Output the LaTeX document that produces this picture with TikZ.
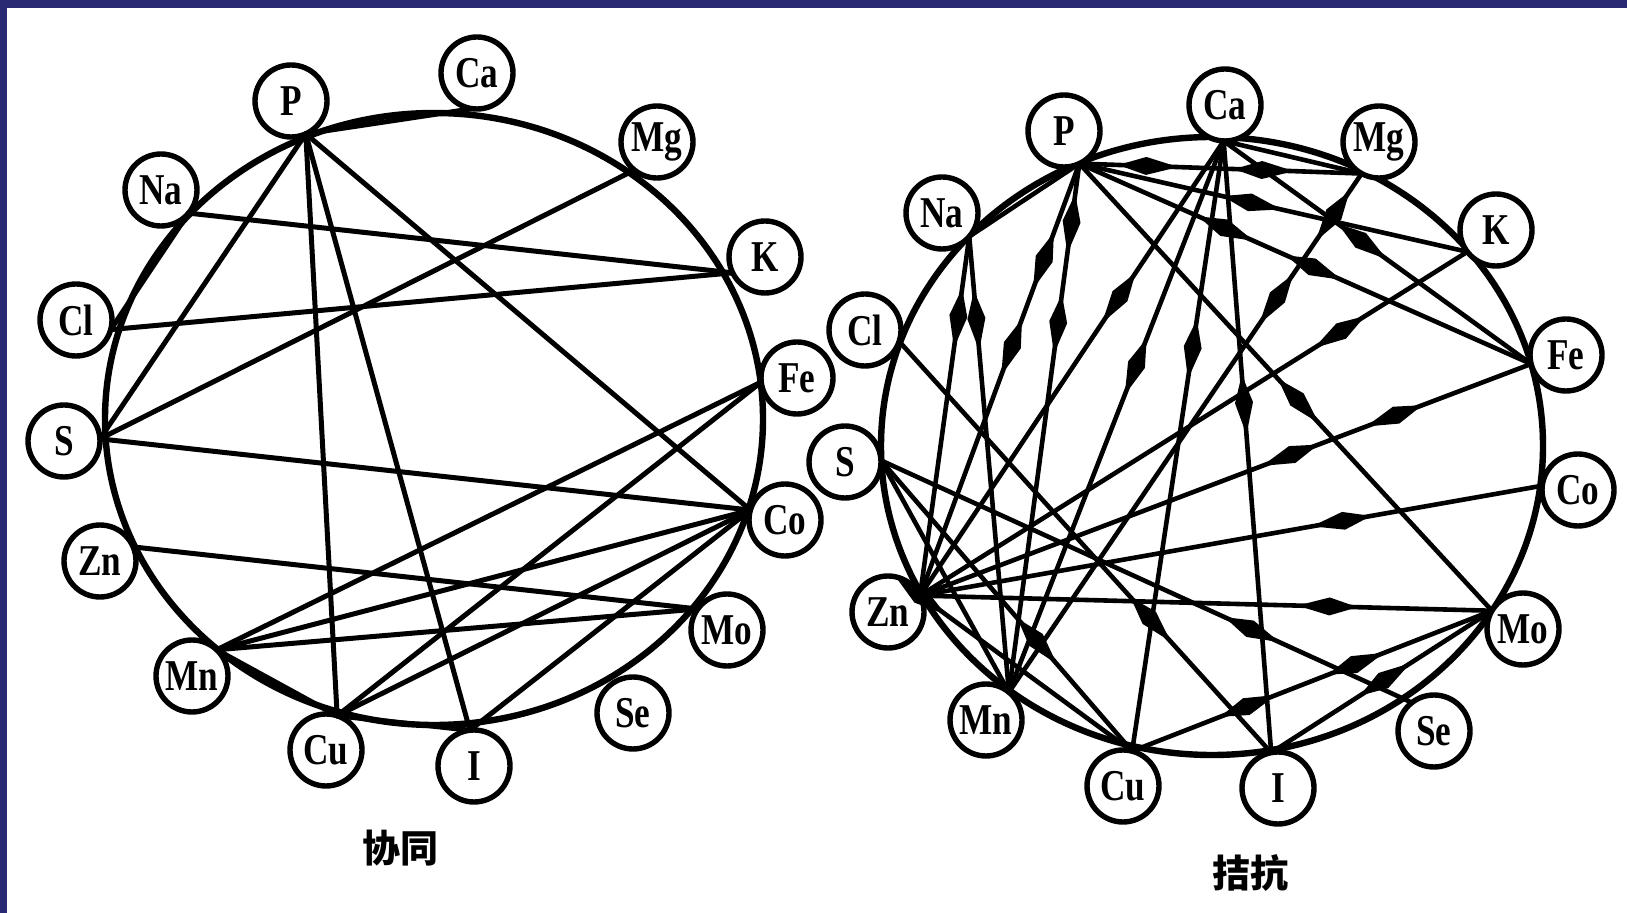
\documentclass[tikz,border=0pt]{standalone}
\usepackage{fontspec}
\newfontfamily\elfont[FakeStretch=0.8]{Liberation Serif}
\newfontfamily\cjkfont{Noto Sans CJK SC}
\usetikzlibrary{calc,arrows.meta,decorations.markings}
\definecolor{frameblue}{RGB}{40,40,115}
\newcommand{\spin}{\arrow{Kite[length=30pt,width=9pt,inset=14pt]}}
\begin{document}
\begin{tikzpicture}[x=0.5pt,y=-0.5pt,line cap=round,line join=round,
  ring/.style={line width=3.2pt},
  el/.style={circle,draw,fill=white,line width=2.7pt,minimum size=36pt,inner sep=0pt,
    font=\elfont\bfseries\fontsize{22}{22}\selectfont},
  bond/.style={line width=2.5pt},
  anta/.style={line width=2.3pt},
  mk/.style={decoration={markings,mark=at position #1 with {\spin}},postaction={decorate}},
  mkk/.style 2 args={decoration={markings,mark=at position #1 with {\spin},
    mark=at position #2 with {\spin}},postaction={decorate}},
  caption/.style={font=\cjkfont\bfseries\fontsize{19}{19}\selectfont}]
\useasboundingbox (0,0) rectangle (1627,913);
\fill[white] (0,0) rectangle (1627,913);
\fill[frameblue] (0,0) rectangle (1627,8);
\fill[frameblue] (0,0) rectangle (7,913);
% synergy ring
\coordinate (xO) at (434,419);
\draw[ring] (xO) ellipse [x radius=164.5pt, y radius=153pt];
\node[el] (xP) at (291,101) {P};
\node[el] (xCa) at (477,73) {Ca};
\node[el] (xMg) at (657,142) {Mg};
\node[el] (xNa) at (161,190) {Na};
\node[el] (xK) at (765,257) {K};
\node[el] (xCl) at (76,320) {Cl};
\node[el] (xFe) at (797,378) {Fe};
\node[el] (xS) at (64,441) {S};
\node[el] (xCo) at (785,520) {Co};
\node[el] (xZn) at (100,561) {Zn};
\node[el] (xMo) at (727,630) {Mo};
\node[el] (xMn) at (192,676) {Mn};
\node[el] (xSe) at (633,713) {Se};
\node[el] (xCu) at (326,750) {Cu};
\node[el] (xI) at (474,766) {I};
\foreach \n in {P,Ca,Mg,Na,K,Cl,Fe,S,Co,Zn,Mo,Mn,Se,Cu,I}
  \coordinate (x\n-c) at ($(x\n)!18pt!(xO)$);
\draw[bond] (xP-c) -- (xCa-c);
\draw[bond] (xP-c) -- (xS-c);
\draw[bond] (xP-c) -- (xCu-c);
\draw[bond] (xP-c) -- (xI-c);
\draw[bond] (xP-c) -- (xCo-c);
\draw[bond] (xNa-c) -- (xK-c);
\draw[bond] (xNa-c) -- (xCl-c);
\draw[bond] (xCl-c) -- (xK-c);
\draw[bond] (xS-c) -- (xMg-c);
\draw[bond] (xS-c) -- (xCo-c);
\draw[bond] (xZn-c) -- (xMo-c);
\draw[bond] (xMn-c) -- (xFe-c);
\draw[bond] (xMn-c) -- (xCo-c);
\draw[bond] (xMn-c) -- (xMo-c);
\draw[bond] (xMn-c) -- (xCu-c);
\draw[bond] (xCu-c) -- (xFe-c);
\draw[bond] (xCu-c) -- (xCo-c);
\draw[bond] (xCu-c) -- (xI-c);
\draw[bond] (xI-c) -- (xCo-c);
\node[caption] (xlab) at (400,848) {协同};
% antagonism ring
\coordinate (jO) at (1212,446);
\draw[ring] (jO) ellipse [x radius=165.5pt, y radius=154.5pt];
\node[el] (jP) at (1064,131) {P};
\node[el] (jCa) at (1225,105) {Ca};
\node[el] (jMg) at (1379,142) {Mg};
\node[el] (jNa) at (942,213) {Na};
\node[el] (jK) at (1496,230) {K};
\node[el] (jCl) at (865,330) {Cl};
\node[el] (jFe) at (1566,355) {Fe};
\node[el] (jS) at (845,462) {S};
\node[el] (jCo) at (1578,490) {Co};
\node[el] (jZn) at (888,612) {Zn};
\node[el] (jMo) at (1523,629) {Mo};
\node[el] (jMn) at (986,720) {Mn};
\node[el] (jSe) at (1434,731) {Se};
\node[el] (jCu) at (1123,786) {Cu};
\node[el] (jI) at (1278,788) {I};
\foreach \n in {P,Ca,Mg,Na,K,Cl,Fe,S,Co,Zn,Mo,Mn,Se,Cu,I}
  \coordinate (j\n-c) at ($(j\n)!18pt!(jO)$);
\draw[anta] (jP-c) -- (jNa-c);
\draw[anta,mkk={0.35}{0.76}] (jP-c) -- (jMg-c);
\draw[anta,mk=0.52] (jP-c) -- (jK-c);
\draw[anta,mkk={0.385}{0.58}] (jP-c) -- (jFe-c);
\draw[anta,mk=0.58] (jP-c) -- (jMo-c);
\draw[anta,mkk={0.29}{0.49}] (jP-c) -- (jZn-c);
\draw[anta,mkk={0.17}{0.36}] (jP-c) -- (jMn-c);
\draw[anta] (jCa-c) -- (jMg-c);
\draw[anta,mk=0.53] (jCa-c) -- (jFe-c);
\draw[anta,mk=0.40] (jCa-c) -- (jZn-c);
\draw[anta,mk=0.46] (jCa-c) -- (jMn-c);
\draw[anta,mk=0.39] (jCa-c) -- (jCu-c);
\draw[anta,mk=0.48] (jCa-c) -- (jI-c);
\draw[anta,mkk={0.13}{0.29}] (jMg-c) -- (jMn-c);
\draw[anta,mk=0.28] (jK-c) -- (jZn-c);
\draw[anta,mkk={0.27}{0.44}] (jFe-c) -- (jZn-c);
\draw[anta,mk=0.37] (jCo-c) -- (jZn-c);
\draw[anta,mk=0.34] (jMo-c) -- (jZn-c);
\draw[anta,mk=0.31] (jNa-c) -- (jZn-c);
\draw[anta,mk=0.25] (jNa-c) -- (jMn-c);
\draw[anta,mk=0.73] (jCl-c) -- (jI-c);
\draw[anta,mk=0.75] (jS-c) -- (jSe-c);
\draw[anta,mk=0.70] (jS-c) -- (jCu-c);
\draw[anta] (jS-c) -- (jMn-c);
\draw[anta,mk=0.12] (jZn-c) -- (jCu-c);
\draw[anta,mkk={0.40}{0.70}] (jCu-c) -- (jMo-c);
\draw[anta,mk=0.63] (jI-c) -- (jMo-c);
\node[caption] (jlab) at (1250,873) {拮抗};
\end{tikzpicture}
\end{document}
